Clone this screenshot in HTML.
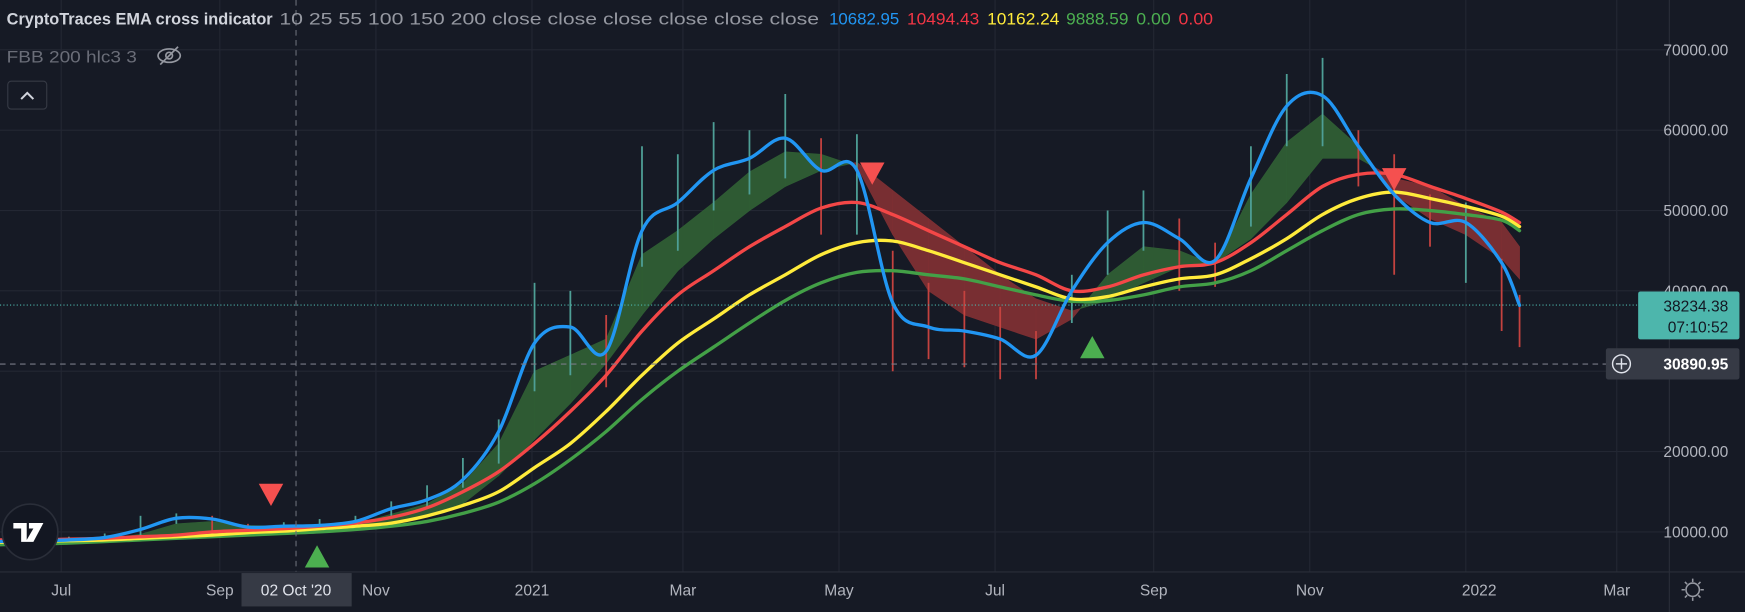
<!DOCTYPE html>
<html><head><meta charset="utf-8"><style>
html,body{margin:0;padding:0;background:#161a25;overflow:hidden}
svg{display:block}
text{font-family:"Liberation Sans",sans-serif}
</style></head><body>
<svg id="chart" width="1745" height="612" viewBox="0 0 1568 550" preserveAspectRatio="none" xmlns="http://www.w3.org/2000/svg">
<rect x="0" y="0" width="1568" height="550" fill="#161a25"/>
<g id="grid"></g>
<g id="band"></g>
<g id="candles"></g>
<g id="lines"></g>
<g id="signals"></g>
<g id="overlay"></g>
<g id="axes"></g>
<g>
<text y="22" font-size="15"><tspan x="6" font-weight="bold" fill="#d1d4dc" textLength="239" lengthAdjust="spacingAndGlyphs">CryptoTraces EMA cross indicator</tspan><tspan x="251" fill="#9598a1" textLength="485" lengthAdjust="spacingAndGlyphs">10 25 55 100 150 200 close close close close close close</tspan><tspan x="745" fill="#2196f3" textLength="63" lengthAdjust="spacingAndGlyphs">10682.95</tspan><tspan x="815" fill="#f23645" textLength="65" lengthAdjust="spacingAndGlyphs">10494.43</tspan><tspan x="887" fill="#ffeb3b" textLength="65" lengthAdjust="spacingAndGlyphs">10162.24</tspan><tspan x="958" fill="#4caf50" textLength="56" lengthAdjust="spacingAndGlyphs">9888.59</tspan><tspan x="1021" fill="#4caf50" textLength="31" lengthAdjust="spacingAndGlyphs">0.00</tspan><tspan x="1059" fill="#f23645" textLength="31" lengthAdjust="spacingAndGlyphs">0.00</tspan></text>
<text x="6" y="56" font-size="15" fill="#6a6d78" textLength="117" lengthAdjust="spacingAndGlyphs">FBB 200 hlc3 3</text>
<g transform="translate(152,50)" stroke="#9598a1" stroke-width="1.5" fill="none"><ellipse cx="0" cy="0" rx="10" ry="6"/><circle cx="0" cy="0" r="3"/><line x1="-8" y1="8" x2="8" y2="-8"/></g>
<rect x="7" y="73" width="35" height="25" rx="3" fill="#161a25" stroke="#363a45"/>
<path d="M19 89 L24.5 83.5 L30 89" stroke="#d1d4dc" stroke-width="1.8" fill="none"/>
</g>
</svg>
<script>
const dates=["2020-06-06","2020-06-20","2020-07-04","2020-07-18","2020-08-01","2020-08-15","2020-08-29","2020-09-12","2020-09-26","2020-10-10","2020-10-24","2020-11-07","2020-11-21","2020-12-05","2020-12-19","2021-01-02","2021-01-16","2021-01-30","2021-02-13","2021-02-27","2021-03-13","2021-03-27","2021-04-10","2021-04-24","2021-05-08","2021-05-22","2021-06-05","2021-06-19","2021-07-03","2021-07-17","2021-07-31","2021-08-14","2021-08-28","2021-09-11","2021-09-25","2021-10-09","2021-10-23","2021-11-06","2021-11-20","2021-12-04","2021-12-18","2022-01-01","2022-01-15","2022-01-22"];
const ema10=[8.8,8.9,9.0,9.3,10.3,11.7,11.6,10.6,10.7,10.8,11.3,12.9,14.0,16.5,22.5,33.5,35.5,32.5,47.5,51.0,55.0,56.5,59.0,55.0,55.0,38.5,35.5,35.0,34.0,32.0,40.0,46.0,48.5,46.5,43.8,54.0,63.0,64.3,58.0,52.0,48.5,48.5,43.5,38.2];
const bandFast=[8.9,8.9,9.0,9.1,9.7,11.0,11.3,10.8,10.7,10.8,11.0,12.2,13.5,16.0,21.0,30.0,32.0,34.0,44.5,47.5,51.0,54.8,57.3,57.0,55.5,47.0,40.0,37.0,35.5,34.0,36.5,42.0,45.5,45.0,43.2,52.0,58.5,62.0,58.0,52.0,49.0,47.0,44.0,41.5];
const bandSlow=[8.8,8.8,8.9,9.0,9.2,9.6,10.1,10.4,10.5,10.6,10.8,11.2,12.2,13.5,17.0,21.5,26.0,31.0,37.0,42.5,46.5,50.0,53.0,55.0,56.0,52.5,49.0,45.5,42.0,39.0,37.5,38.8,41.0,43.0,43.5,46.5,51.0,56.5,56.5,54.0,53.0,50.5,48.5,45.5];
const ema55=[9.0,9.0,9.1,9.2,9.4,9.6,10.0,10.2,10.4,10.7,11.1,11.8,13.0,15.0,17.5,21.0,25.0,29.5,35.0,39.5,42.5,45.5,48.0,50.3,51.0,49.5,47.5,45.5,43.5,42.0,40.0,40.5,42.0,43.0,43.5,46.0,49.5,53.0,54.5,54.5,53.0,51.5,49.8,48.5];
const ema100=[8.7,8.8,8.9,9.0,9.2,9.4,9.6,9.9,10.1,10.4,10.7,11.1,12.0,13.3,15.0,18.0,21.0,25.0,29.5,33.5,36.5,39.5,42.0,44.5,46.0,46.2,45.0,43.5,42.0,40.5,39.0,39.3,40.5,41.5,42.0,44.0,46.5,49.5,51.5,52.3,51.5,50.5,49.3,48.0];
const ema200=[8.4,8.5,8.6,8.8,9.0,9.2,9.4,9.6,9.8,10.0,10.3,10.7,11.3,12.3,13.7,16.0,19.0,22.5,26.5,30.0,33.0,36.0,38.8,41.0,42.3,42.5,42.0,41.5,40.5,39.5,38.7,38.8,39.5,40.5,41.0,42.5,45.0,47.5,49.5,50.2,50.0,49.5,48.8,47.5];
const highs=[9.5,9.4,9.4,9.8,12.0,12.3,12.0,11.0,11.2,11.6,12.0,13.8,15.8,19.2,24.0,41.0,40.0,37.0,58.0,57.0,61.0,60.0,64.5,59.0,59.5,45.0,41.0,40.0,38.0,35.0,42.0,50.0,52.5,49.0,46.0,58.0,67.0,69.0,60.0,57.0,52.0,51.0,44.0,39.5];
const lows=[8.5,8.6,8.8,9.0,9.4,11.0,10.0,10.3,10.4,10.5,10.9,12.0,13.0,15.5,18.5,27.5,29.5,28.0,43.0,45.0,50.0,52.0,54.0,47.0,47.0,30.0,31.5,30.5,29.0,29.0,36.0,42.0,45.0,40.0,40.5,48.0,58.0,58.0,53.0,42.0,45.5,41.0,35.0,33.0];
const sellDates=["2020-09-21","2021-05-14","2021-12-04"];
const sellPrices=[14.6,54.6,53.9];
const buyDates=["2020-10-09","2021-08-08"];
const buyPrices=[6.95,33.0];
const priceTicks=[10000,20000,30000,40000,50000,60000,70000];
const timeTickDates=["2020-07-01","2020-09-01","2020-11-01","2021-01-01","2021-03-01","2021-05-01","2021-07-01","2021-09-01","2021-11-01","2022-01-01","2022-03-01"];
const timeTickLabels=["Jul","Sep","Nov","2021","Mar","May","Jul","Sep","Nov","2022","Mar"];
const lastPrice=38234.38, markPrice=30890.95;

const NS="http://www.w3.org/2000/svg";
const D0=Date.UTC(2020,6,1);
function xOf(d){const p=d.split("-");const t=Date.UTC(+p[0],+p[1]-1,+p[2]);return 55+(t-D0)/864e5*2.299;}
function yOf(k){return 478-(k-10)*7.22;}
function yP(v){return yOf(v/1000);}
function mk(tag,attrs,parent){const e=document.createElementNS(NS,tag);for(const k in attrs)e.setAttribute(k,attrs[k]);parent.appendChild(e);return e;}
const G=id=>document.getElementById(id);

priceTicks.forEach(v=>{const l=mk("line",{x1:0,x2:1500,y1:yP(v),y2:yP(v),stroke:"#232733","stroke-width":1},G("grid"));

});
timeTickDates.forEach(d=>{const l=mk("line",{x1:xOf(d),x2:xOf(d),y1:0,y2:514,stroke:"#232733","stroke-width":1},G("grid"));

});

const xs=dates.map(xOf);
for(let i=0;i<dates.length-1;i++){
  const a1=bandFast[i],a2=bandFast[i+1],b1=bandSlow[i],b2=bandSlow[i+1];
  const d1=a1-b1,d2=a2-b2;
  const segs=[];
  if(d1*d2<0){const t=d1/(d1-d2);const xc=xs[i]+t*(xs[i+1]-xs[i]);const yc=a1+t*(a2-a1);
    segs.push([[xs[i],a1],[xc,yc],[xs[i],b1],d1]);segs.push([[xc,yc],[xs[i+1],a2],[xs[i+1],b2],d2]);}
  else segs.push([[xs[i],a1],[xs[i+1],a2],[xs[i+1],b2],[xs[i],b1],d1+d2]);
  segs.forEach(s=>{const sign=s[s.length-1];const pts=s.slice(0,-1).map(p=>p[0]+","+yOf(p[1])).join(" ");
    const p=mk("polygon",{points:pts,fill:sign>=0?"#2f5e34":"#7d2f33","fill-opacity":0.95,stroke:sign>=0?"#2f5e34":"#7d2f33","stroke-width":0.6},G("band"));
    
    });
}

for(let i=0;i<dates.length;i++){
  const up=i===0||ema10[i]>=ema10[i-1];
  const l=mk("line",{x1:xs[i],x2:xs[i],y1:yOf(highs[i]),y2:yOf(lows[i]),stroke:up?"#4e9f96":"#c4423f","stroke-width":1.6},G("candles"));
  
  
}

function smoothPath(arr){
  const P=arr.map((v,i)=>[xs[i],yOf(v)]);
  let d="M"+P[0][0].toFixed(1)+","+P[0][1].toFixed(1);
  for(let i=0;i<P.length-1;i++){
    const p0=P[Math.max(0,i-1)],p1=P[i],p2=P[i+1],p3=P[Math.min(P.length-1,i+2)];
    const c1=[p1[0]+(p2[0]-p0[0])/6,p1[1]+(p2[1]-p0[1])/6];
    const c2=[p2[0]-(p3[0]-p1[0])/6,p2[1]-(p3[1]-p1[1])/6];
    d+=` C${c1[0].toFixed(1)},${c1[1].toFixed(1)} ${c2[0].toFixed(1)},${c2[1].toFixed(1)} ${p2[0].toFixed(1)},${p2[1].toFixed(1)}`;
  }
  return d;
}
function line(arr,color,w,name){
  const p=mk("path",{d:smoothPath(arr),fill:"none",stroke:color,"stroke-width":w,"stroke-linejoin":"round","stroke-linecap":"round"},G("lines"));
  
  }
line(ema200,"#43a047",3,"ema-200-line");
line(ema100,"#ffeb3b",3,"ema-100-line");
line(ema55,"#f44747",3,"ema-55-line");
line(ema10,"#2196f3",3,"ema-10-line");

sellDates.forEach((d,i)=>{const x=xOf(d),y=yOf(sellPrices[i]);
  const p=mk("polygon",{points:`${x-11},${y-10} ${x+11},${y-10} ${x},${y+10}`,fill:"#f5504f"},G("signals"));
  
  });
buyDates.forEach((d,i)=>{const x=xOf(d),y=yOf(buyPrices[i]);
  const p=mk("polygon",{points:`${x-11},${y+10} ${x+11},${y+10} ${x},${y-10}`,fill:"#4caf50"},G("signals"));
  
  });

const ov=G("overlay");
let e=mk("line",{x1:266,x2:266,y1:0,y2:514,stroke:"#6a6d78","stroke-dasharray":"5 4","stroke-width":1},ov);


e=mk("line",{x1:0,x2:1500,y1:yP(lastPrice),y2:yP(lastPrice),stroke:"#4db6ac","stroke-dasharray":"1 2","stroke-width":1},ov);


e=mk("line",{x1:0,x2:1500,y1:yP(markPrice),y2:yP(markPrice),stroke:"#787b86","stroke-dasharray":"5 4","stroke-width":1},ov);



const ax=G("axes");
e=mk("line",{x1:1500,x2:1500,y1:0,y2:550,stroke:"#2a2e39","stroke-width":1},ax);


e=mk("line",{x1:0,x2:1568,y1:514,y2:514,stroke:"#2a2e39","stroke-width":1},ax);


priceTicks.forEach(v=>{if(v===30000)return;const t=mk("text",{x:1553,y:yP(v)+5,"font-size":14,fill:"#b2b5be","text-anchor":"end"},ax);t.textContent=v.toFixed(2);
  
  });
timeTickDates.forEach((d,i)=>{let x=xOf(d);if(timeTickLabels[i]==="2022")x+=12;const t=mk("text",{x:x,y:535,"font-size":14,fill:"#b2b5be","text-anchor":"middle"},ax);t.textContent=timeTickLabels[i];
  
  });
e=mk("rect",{x:217,y:515,width:99,height:30,fill:"#363a45"},ax);


e=mk("text",{x:266,y:535,"font-size":14,fill:"#e0e3eb","text-anchor":"middle"},ax);e.textContent="02 Oct '20";


e=mk("rect",{x:1472,y:262,width:91,height:43,rx:2,fill:"#4db6ac"},ax);


e=mk("text",{x:1553,y:280,"font-size":14,fill:"#131722","text-anchor":"end"},ax);e.textContent=lastPrice.toFixed(2);


e=mk("text",{x:1553,y:299,"font-size":14,fill:"#131722","text-anchor":"end"},ax);e.textContent="07:10:52";


e=mk("rect",{x:1443,y:313,width:120,height:28,rx:2,fill:"#363a45"},ax);


e=mk("circle",{cx:1457,cy:327,r:8,fill:"none",stroke:"#e0e3eb","stroke-width":1.3},ax);


mk("path",{d:"M1452 327 H1462 M1457 322 V332",stroke:"#e0e3eb","stroke-width":1.3},ax);
e=mk("text",{x:1553,y:332,"font-size":14,"font-weight":"bold",fill:"#ffffff","text-anchor":"end"},ax);e.textContent=markPrice.toFixed(2);


e=mk("g",{transform:"translate(1521,530)",stroke:"#9598a1","stroke-width":1.4,fill:"none"},ax);


mk("circle",{cx:0,cy:0,r:6},e);
mk("path",{d:"M0 -10V-7 M0 7V10 M-10 0H-7 M7 0H10 M-7 -7L-5 -5 M5 5L7 7 M-7 7L-5 5 M5 -5L7 -7"},e);
e=mk("g",{transform:"translate(27,478)"},ax);


mk("circle",{cx:0,cy:0,r:25,fill:"#131722",stroke:"#2a2e39","stroke-width":1.5},e);
mk("path",{d:"M-15 -8 H-3 V9 H-8 V-3 H-15 Z M-1 -8 H12 L3 9 H-4 L3 -3 H-1 Z",fill:"#ffffff"},e);
</script>
</body></html>
